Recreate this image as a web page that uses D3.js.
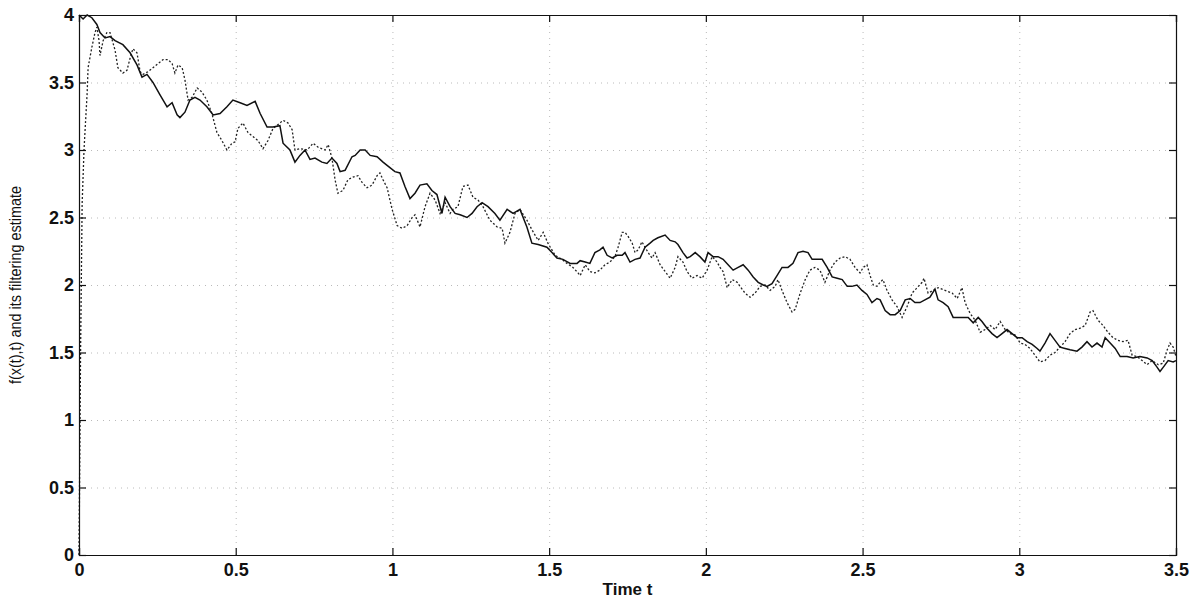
<!DOCTYPE html>
<html>
<head>
<meta charset="utf-8">
<script src="https://cdn.jsdelivr.net/npm/d3@7"></script>
<style>
  body { margin: 0; background: #fff; }
  svg text { font-family: "Liberation Sans", Arial, Helvetica, sans-serif; fill: #111; }
  .axis text { font-size: 18px; font-weight: bold; }
  .axis path, .axis line { stroke: #111; stroke-width: 1.2; }
  .grid line { stroke: #a8a8a8; stroke-width: 0.8; stroke-dasharray: 1 5; }
  .grid path { display: none; }
  .ylab { font-size: 17px; }
</style>
</head>
<body>
<div id="chart"></div>
<script>
/* f(x(t),t) (solid) and its filtering estimate (dotted), t in [0, 3.5] */

// true value f(x(t),t)
const solidT = [0, 0.013, 0.026, 0.041, 0.057, 0.067, 0.083, 0.099, 0.115, 0.140, 0.163, 0.185, 0.201, 0.217, 0.236,
  0.258, 0.281, 0.297, 0.313, 0.322, 0.338, 0.354, 0.370, 0.386, 0.408, 0.428, 0.450, 0.472, 0.491, 0.514, 0.536,
  0.562, 0.578, 0.600, 0.619, 0.641, 0.651, 0.673, 0.689, 0.705, 0.721, 0.737, 0.753, 0.775, 0.791, 0.807, 0.823,
  0.833, 0.849, 0.871, 0.881, 0.897, 0.913, 0.929, 0.951, 0.970, 0.992, 1.008, 1.024, 1.040, 1.056, 1.072, 1.088,
  1.110, 1.126, 1.142, 1.158, 1.168, 1.184, 1.200, 1.216, 1.238, 1.254, 1.270, 1.286, 1.305, 1.327, 1.343, 1.366,
  1.385, 1.407, 1.429, 1.445, 1.465, 1.493, 1.509, 1.525, 1.544, 1.567, 1.589, 1.599, 1.615, 1.630, 1.646, 1.662,
  1.672, 1.685, 1.701, 1.717, 1.733, 1.742, 1.758, 1.774, 1.790, 1.806, 1.822, 1.832, 1.847, 1.870, 1.886, 1.902,
  1.911, 1.927, 1.940, 1.950, 1.966, 1.981, 1.997, 2.007, 2.023, 2.039, 2.055, 2.071, 2.087, 2.103, 2.119, 2.135,
  2.151, 2.167, 2.183, 2.195, 2.211, 2.227, 2.243, 2.262, 2.278, 2.294, 2.310, 2.326, 2.339, 2.355, 2.371, 2.387,
  2.403, 2.419, 2.435, 2.451, 2.466, 2.482, 2.498, 2.514, 2.530, 2.546, 2.556, 2.572, 2.588, 2.604, 2.620, 2.636,
  2.652, 2.667, 2.683, 2.699, 2.715, 2.731, 2.741, 2.757, 2.773, 2.789, 2.805, 2.821, 2.837, 2.853, 2.869, 2.881,
  2.897, 2.913, 2.929, 2.945, 2.961, 2.977, 2.993, 3.009, 3.025, 3.041, 3.057, 3.066, 3.082, 3.098, 3.114, 3.130,
  3.146, 3.162, 3.184, 3.200, 3.216, 3.232, 3.248, 3.264, 3.274, 3.290, 3.306, 3.322, 3.344, 3.363, 3.385, 3.408,
  3.424, 3.440, 3.449, 3.459, 3.475, 3.491, 3.500];
const solidV = [4.00, 3.97, 4.00, 3.98, 3.93, 3.87, 3.83, 3.84, 3.81, 3.78, 3.72, 3.63, 3.54, 3.56, 3.50,
  3.41, 3.32, 3.35, 3.26, 3.24, 3.28, 3.37, 3.39, 3.37, 3.32, 3.26, 3.27, 3.32, 3.37, 3.35, 3.33,
  3.36, 3.27, 3.17, 3.17, 3.18, 3.05, 3.00, 2.91, 2.96, 3.00, 2.93, 2.94, 2.91, 2.90, 2.94, 2.90,
  2.84, 2.85, 2.95, 2.96, 3.00, 3.00, 2.96, 2.95, 2.91, 2.87, 2.84, 2.83, 2.73, 2.64, 2.68, 2.74,
  2.75, 2.70, 2.67, 2.53, 2.65, 2.58, 2.53, 2.52, 2.50, 2.53, 2.58, 2.61, 2.58, 2.53, 2.48, 2.56,
  2.53, 2.56, 2.43, 2.31, 2.30, 2.28, 2.24, 2.20, 2.19, 2.16, 2.16, 2.18, 2.17, 2.16, 2.24, 2.26,
  2.28, 2.22, 2.20, 2.22, 2.22, 2.24, 2.17, 2.19, 2.20, 2.28, 2.31, 2.33, 2.35, 2.37, 2.33, 2.32,
  2.30, 2.24, 2.20, 2.21, 2.24, 2.21, 2.17, 2.24, 2.21, 2.21, 2.19, 2.15, 2.11, 2.13, 2.15, 2.11,
  2.06, 2.02, 2.00, 1.99, 2.01, 2.07, 2.13, 2.13, 2.16, 2.24, 2.25, 2.24, 2.19, 2.19, 2.19, 2.13,
  2.06, 2.05, 2.04, 1.99, 1.99, 2.00, 1.96, 1.93, 1.87, 1.90, 1.89, 1.81, 1.78, 1.78, 1.81, 1.89,
  1.90, 1.87, 1.87, 1.89, 1.91, 1.97, 1.89, 1.87, 1.84, 1.76, 1.76, 1.76, 1.76, 1.72, 1.76, 1.73,
  1.68, 1.64, 1.61, 1.64, 1.67, 1.64, 1.61, 1.61, 1.58, 1.56, 1.53, 1.51, 1.57, 1.64, 1.59, 1.54,
  1.53, 1.52, 1.51, 1.54, 1.58, 1.54, 1.57, 1.54, 1.61, 1.57, 1.53, 1.47, 1.47, 1.46, 1.47, 1.46,
  1.44, 1.39, 1.36, 1.39, 1.44, 1.43, 1.44];

// filtering estimate
const estT = [0, 0.005, 0.010, 0.016, 0.019, 0.026, 0.029, 0.041, 0.051, 0.057, 0.064, 0.067, 0.077, 0.089, 0.099,
  0.115, 0.124, 0.140, 0.153, 0.163, 0.172, 0.185, 0.195, 0.204, 0.220, 0.236, 0.252, 0.268, 0.284, 0.297, 0.306,
  0.316, 0.329, 0.338, 0.348, 0.361, 0.377, 0.392, 0.408, 0.424, 0.440, 0.456, 0.472, 0.488, 0.498, 0.507, 0.523,
  0.539, 0.555, 0.571, 0.587, 0.603, 0.619, 0.641, 0.651, 0.667, 0.680, 0.689, 0.705, 0.728, 0.747, 0.763, 0.785,
  0.795, 0.807, 0.817, 0.826, 0.842, 0.858, 0.874, 0.890, 0.903, 0.919, 0.935, 0.951, 0.960, 0.970, 0.983, 0.999,
  1.015, 1.031, 1.047, 1.063, 1.072, 1.088, 1.104, 1.120, 1.136, 1.152, 1.168, 1.184, 1.193, 1.209, 1.225, 1.241,
  1.257, 1.273, 1.289, 1.311, 1.334, 1.350, 1.359, 1.375, 1.391, 1.407, 1.429, 1.445, 1.465, 1.481, 1.496, 1.519,
  1.541, 1.557, 1.576, 1.592, 1.599, 1.615, 1.630, 1.646, 1.662, 1.678, 1.694, 1.710, 1.720, 1.733, 1.742, 1.752,
  1.765, 1.774, 1.784, 1.796, 1.806, 1.816, 1.828, 1.838, 1.854, 1.870, 1.886, 1.902, 1.911, 1.927, 1.940, 1.956,
  1.972, 1.988, 2.004, 2.020, 2.036, 2.045, 2.055, 2.068, 2.084, 2.100, 2.109, 2.125, 2.141, 2.157, 2.173, 2.189,
  2.205, 2.221, 2.230, 2.243, 2.259, 2.275, 2.285, 2.301, 2.317, 2.332, 2.348, 2.364, 2.380, 2.396, 2.412, 2.428,
  2.444, 2.460, 2.476, 2.492, 2.502, 2.514, 2.524, 2.534, 2.546, 2.556, 2.565, 2.578, 2.594, 2.610, 2.626, 2.642,
  2.658, 2.674, 2.690, 2.696, 2.709, 2.725, 2.741, 2.763, 2.786, 2.802, 2.817, 2.827, 2.843, 2.859, 2.875, 2.891,
  2.907, 2.923, 2.939, 2.955, 2.971, 2.987, 3.003, 3.018, 3.034, 3.050, 3.066, 3.082, 3.098, 3.114, 3.130, 3.146,
  3.162, 3.178, 3.194, 3.210, 3.226, 3.235, 3.251, 3.267, 3.283, 3.299, 3.315, 3.331, 3.347, 3.360, 3.376, 3.392,
  3.408, 3.424, 3.443, 3.459, 3.472, 3.481, 3.491, 3.500];
const estV = [0.00, 1.50, 2.60, 3.00, 3.13, 3.42, 3.61, 3.76, 3.87, 3.91, 3.81, 3.70, 3.81, 3.87, 3.87,
  3.74, 3.61, 3.57, 3.59, 3.68, 3.75, 3.72, 3.58, 3.56, 3.58, 3.61, 3.64, 3.67, 3.67, 3.64, 3.57,
  3.63, 3.61, 3.52, 3.37, 3.39, 3.46, 3.43, 3.37, 3.27, 3.13, 3.07, 3.00, 3.05, 3.06, 3.16, 3.20,
  3.13, 3.10, 3.07, 3.01, 3.07, 3.16, 3.20, 3.22, 3.20, 3.15, 3.00, 3.01, 3.00, 3.05, 3.02, 3.00,
  3.04, 2.94, 2.78, 2.68, 2.70, 2.78, 2.80, 2.81, 2.76, 2.72, 2.74, 2.81, 2.83, 2.78, 2.72, 2.56,
  2.44, 2.42, 2.44, 2.50, 2.52, 2.43, 2.58, 2.68, 2.63, 2.53, 2.61, 2.53, 2.56, 2.58, 2.73, 2.74,
  2.65, 2.63, 2.58, 2.48, 2.43, 2.42, 2.31, 2.39, 2.53, 2.56, 2.48, 2.41, 2.33, 2.39, 2.31, 2.22,
  2.19, 2.16, 2.13, 2.09, 2.07, 2.15, 2.10, 2.09, 2.11, 2.15, 2.17, 2.21, 2.28, 2.39, 2.39, 2.36,
  2.31, 2.24, 2.26, 2.32, 2.28, 2.24, 2.20, 2.24, 2.15, 2.10, 2.05, 2.13, 2.21, 2.17, 2.10, 2.05,
  2.07, 2.05, 2.11, 2.21, 2.17, 2.13, 2.10, 1.98, 2.04, 2.02, 1.99, 1.94, 1.91, 1.94, 1.99, 2.00,
  1.96, 1.99, 2.04, 1.96, 1.87, 1.80, 1.82, 1.94, 2.04, 2.11, 2.13, 2.11, 2.02, 2.11, 2.17, 2.20,
  2.21, 2.19, 2.13, 2.09, 2.13, 2.15, 2.07, 2.00, 1.99, 2.02, 2.04, 1.96, 1.89, 1.84, 1.76, 1.84,
  1.94, 1.98, 2.02, 2.05, 1.94, 1.96, 1.98, 1.96, 1.94, 1.90, 1.98, 1.87, 1.79, 1.74, 1.65, 1.67,
  1.70, 1.67, 1.73, 1.67, 1.64, 1.63, 1.57, 1.56, 1.53, 1.48, 1.43, 1.44, 1.48, 1.50, 1.54, 1.58,
  1.64, 1.67, 1.68, 1.70, 1.80, 1.81, 1.74, 1.70, 1.65, 1.61, 1.59, 1.58, 1.59, 1.48, 1.47, 1.44,
  1.41, 1.44, 1.41, 1.42, 1.52, 1.57, 1.54, 1.47];

const xTicks = [0, 0.5, 1, 1.5, 2, 2.5, 3, 3.5];
const yTicks = [0, 0.5, 1, 1.5, 2, 2.5, 3, 3.5, 4];
const xLabel = "Time t";
const yLabel = "f(x(t),t) and its filtering estimate";

const W = 1197, H = 601;
const M = {top: 15, right: 21, bottom: 46, left: 79};
const innerW = W - M.left - M.right;
const innerH = H - M.top - M.bottom;

const svg = d3.select("#chart").append("svg").attr("width", W).attr("height", H);
const g = svg.append("g").attr("transform", `translate(${M.left},${M.top})`);

const x = d3.scaleLinear().domain([0, 3.5]).range([0, innerW]);
const y = d3.scaleLinear().domain([0, 4]).range([innerH, 0]);

// dotted grid
g.append("g").attr("class", "grid").attr("transform", `translate(0,${innerH})`)
  .call(d3.axisBottom(x).tickValues(xTicks).tickSize(-innerH).tickFormat(""));
g.append("g").attr("class", "grid")
  .call(d3.axisLeft(y).tickValues(yTicks).tickSize(-innerW).tickFormat(""));

// the two curves
const solid = solidT.map((t, i) => [t, solidV[i]]);
const est = estT.map((t, i) => [t, estV[i]]);
const line = d3.line().x(d => x(d[0])).y(d => y(d[1]));

g.append("path").datum(est).attr("d", line)
  .attr("fill", "none").attr("stroke", "#222").attr("stroke-width", 1.3)
  .attr("stroke-dasharray", "2 2");
g.append("path").datum(solid).attr("d", line)
  .attr("fill", "none").attr("stroke", "#111").attr("stroke-width", 1.5);

// axes, ticks pointing inward on all four sides
const fmt = d => String(d);
g.append("g").attr("class", "axis").attr("transform", `translate(0,${innerH})`)
  .call(d3.axisBottom(x).tickValues(xTicks).tickSize(-7).tickPadding(8).tickFormat(fmt));
g.append("g").attr("class", "axis")
  .call(d3.axisLeft(y).tickValues(yTicks).tickSize(-7).tickPadding(5).tickFormat(fmt));
g.append("g").attr("class", "axis")
  .call(d3.axisTop(x).tickValues(xTicks).tickSize(-7).tickFormat(""));
g.append("g").attr("class", "axis").attr("transform", `translate(${innerW},0)`)
  .call(d3.axisRight(y).tickValues(yTicks).tickSize(-7).tickFormat(""));

g.selectAll(".axis .domain").attr("stroke-width", 1.4);

// axis titles
svg.append("text")
  .attr("x", M.left + innerW / 2).attr("y", 595)
  .attr("text-anchor", "middle")
  .style("font-size", "17px").style("font-weight", "bold")
  .text(xLabel);
// narrow-looking rotated label
svg.append("text").attr("class", "ylab")
  .attr("transform", `translate(21,${M.top + innerH / 2}) rotate(-90) scale(0.85,1)`)
  .attr("text-anchor", "middle")
  .text(yLabel);
</script>
</body>
</html>
